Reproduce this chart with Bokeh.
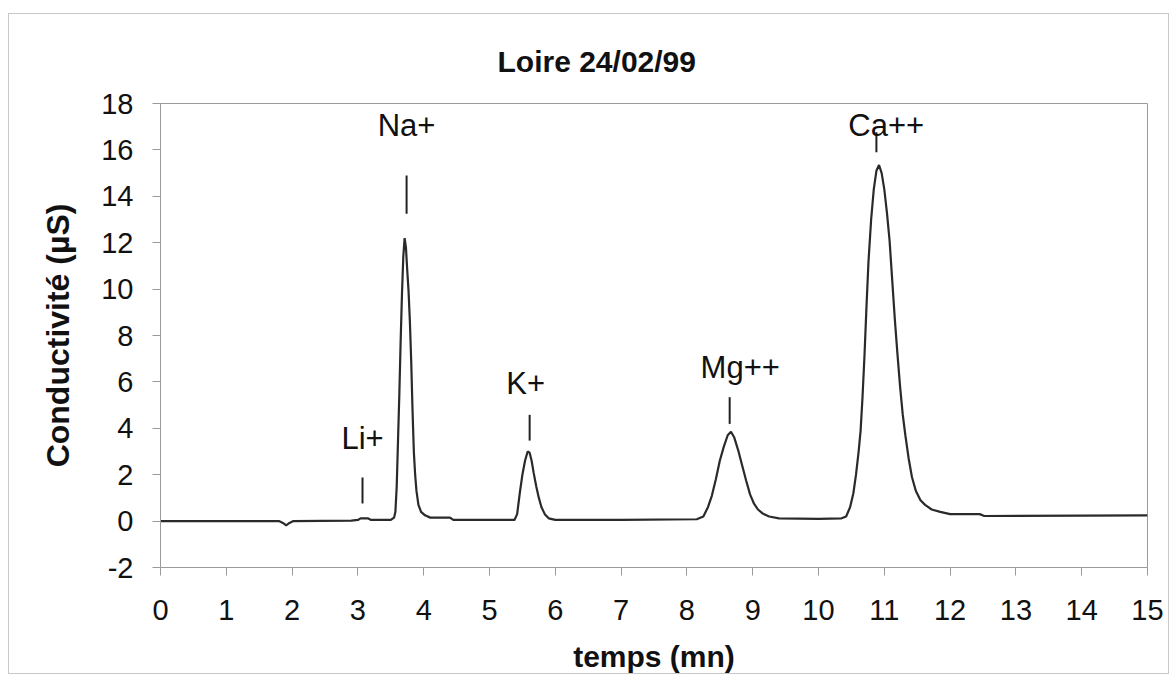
from bokeh.plotting import figure
from bokeh.models import Range1d, FixedTicker, PrintfTickFormatter
from bokeh.embed import file_html
from bokeh.resources import INLINE
from bokeh.core.properties import value

# ---- data ----
time_mn = [
    0.00, 1.80, 1.86, 1.91, 1.96, 2.02, 2.90, 3.00, 3.04, 3.15, 3.20, 3.50,
    3.55, 3.57, 3.59, 3.61, 3.63, 3.65, 3.67, 3.69, 3.71, 3.73, 3.75, 3.77,
    3.79, 3.81, 3.83, 3.85, 3.87, 3.89, 3.92, 3.96, 4.02, 4.10, 4.40, 4.45,
    5.30, 5.38, 5.42, 5.46, 5.50, 5.54, 5.58, 5.61, 5.64, 5.67, 5.71, 5.75,
    5.79, 5.84, 5.90, 6.00, 7.00, 8.15, 8.25, 8.32, 8.38, 8.44, 8.50, 8.56,
    8.62, 8.67, 8.72, 8.78, 8.84, 8.90, 8.96, 9.02, 9.08, 9.15, 9.25, 9.40,
    10.00, 10.35, 10.42, 10.48, 10.53, 10.57, 10.61, 10.64, 10.67, 10.70,
    10.73, 10.76, 10.80, 10.84, 10.88, 10.92, 10.96, 11.00, 11.04, 11.08,
    11.12, 11.16, 11.20, 11.24, 11.28, 11.32, 11.37, 11.42, 11.48, 11.55,
    11.62, 11.72, 11.85, 12.00, 12.45, 12.52, 15.00,
]
conductivity_us = [
    0.00, 0.00, -0.08, -0.18, -0.08, 0.00, 0.02, 0.05, 0.12, 0.12, 0.05, 0.05,
    0.15, 0.40, 1.50, 3.50, 5.50, 7.80, 9.80, 11.40, 12.20, 11.80, 10.80, 9.90,
    8.60, 6.90, 4.80, 3.00, 2.00, 1.30, 0.70, 0.40, 0.25, 0.15, 0.15, 0.05,
    0.05, 0.05, 0.30, 1.20, 2.00, 2.60, 3.00, 2.95, 2.60, 2.10, 1.50, 1.00,
    0.60, 0.30, 0.12, 0.05, 0.05, 0.08, 0.20, 0.60, 1.10, 1.80, 2.60, 3.20,
    3.70, 3.85, 3.60, 3.05, 2.40, 1.75, 1.15, 0.75, 0.50, 0.33, 0.20, 0.12,
    0.10, 0.12, 0.20, 0.60, 1.20, 2.00, 3.00, 3.90, 5.40, 7.20,
    9.30, 11.20, 13.00, 14.30, 15.10, 15.35, 15.00, 14.30, 13.30, 12.10,
    10.40, 8.70, 7.20, 5.80, 4.60, 3.70, 2.70, 1.90, 1.30, 0.90,
    0.70, 0.50, 0.40, 0.30, 0.30, 0.22, 0.25,
]

ion_labels = ["Li+", "Na+", "K+", "Mg++", "Ca++"]
label_x = [3.07, 3.74, 5.55, 8.81, 11.03]
label_y = [3.56, 17.05, 5.92, 6.62, 17.05]
marker_x = [3.07, 3.74, 5.61, 8.65, 10.88]
marker_y0 = [0.76, 13.25, 3.47, 4.19, 15.9]
marker_y1 = [1.88, 14.9, 4.58, 5.34, 16.76]

x_ticks = list(range(0, 16))
y_ticks = list(range(-2, 19, 2))

FONT = "Liberation Sans"

p = figure(
    width=1161, height=661,
    output_backend="svg", toolbar_location=None,
    x_range=Range1d(0, 15), y_range=Range1d(-2, 18),
    min_border_left=151, min_border_right=23,
    min_border_top=89, min_border_bottom=108,
    title="Loire 24/02/99",
    styles={"border": "1px solid #c8c8c8", "margin-left": "8px", "margin-top": "13px"},
)

p.title.text_font = FONT
p.title.text_font_size = "30px"
p.title.text_font_style = "bold"
p.title.text_color = "#111111"
p.title.align = "left"
p.title.offset = 337
p.title.standoff = 52

p.grid.visible = False
p.outline_line_color = "#9a9a9a"
p.outline_line_width = 1

p.line(time_mn, conductivity_us, line_color="#2a2a2a", line_width=2.2)

p.segment(x0=marker_x, y0=marker_y0, x1=marker_x, y1=marker_y1,
          line_color="#222222", line_width=2)
p.text(x=label_x, y=label_y, text=ion_labels,
       text_font=value(FONT), text_font_size="31px",
       text_align="center", text_baseline="alphabetic", text_color="#111111")

for ax in (p.xaxis[0], p.yaxis[0]):
    ax.axis_line_color = "#9a9a9a"
    ax.major_tick_line_color = "#9a9a9a"
    ax.minor_tick_line_color = None
    ax.major_tick_in = 0
    ax.major_tick_out = 8
    ax.major_label_text_font = FONT
    ax.major_label_text_font_size = "29px"
    ax.major_label_text_color = "#111111"
    ax.axis_label_text_font = FONT
    ax.axis_label_text_font_style = "bold"
    ax.axis_label_text_color = "#111111"
    ax.formatter = PrintfTickFormatter(format="%d")

p.xaxis.ticker = FixedTicker(ticks=x_ticks)
p.yaxis.ticker = FixedTicker(ticks=y_ticks)
p.xaxis.axis_label = "temps (mn)"
p.yaxis.axis_label = "Conductivité (µS)"
p.xaxis.axis_label_text_font_size = "30px"
p.yaxis.axis_label_text_font_size = "32px"
p.xaxis.major_label_standoff = 24
p.yaxis.major_label_standoff = 19
p.xaxis.axis_label_standoff = 17
p.yaxis.axis_label_standoff = 22

open("out.html", "w").write(file_html(p, INLINE))
